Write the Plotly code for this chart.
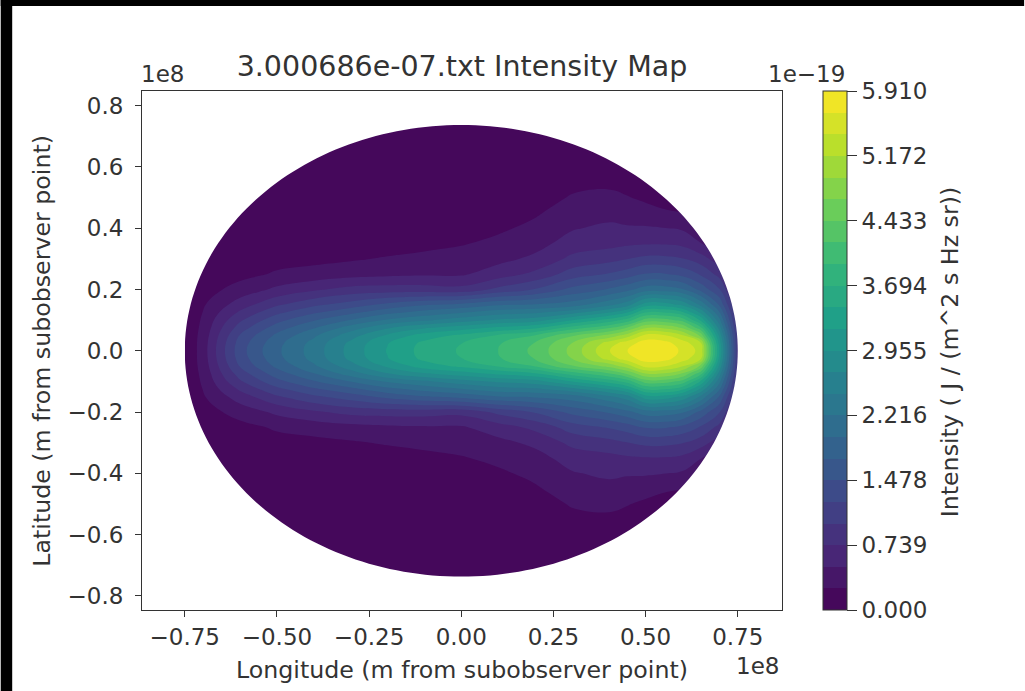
import math
import plotly.colors as pc
import plotly.graph_objects as go

# Longitude / latitude nodes (units of 1e8 m) and intensity (units of 1e-19).
lon = [-0.75, -0.72, -0.69, -0.65, -0.6, -0.55, -0.5, -0.4, -0.3, -0.2, -0.1, 0.0,
       0.1, 0.2, 0.3, 0.4, 0.45, 0.5, 0.55, 0.6, 0.65, 0.7, 0.75]
lat_upper = [0.0, 0.025, 0.05, 0.075, 0.1, 0.125, 0.15, 0.2, 0.25, 0.3, 0.35, 0.4, 0.45, 0.5, 0.55, 0.6, 0.75]

I_lat_000 = [0.05, 0.22, 0.48, 0.90, 1.37, 1.67, 1.92, 2.33, 2.80, 3.22, 3.54, 3.72, 3.94, 4.25, 4.75, 5.40, 5.66, 5.85, 5.82, 5.62, 5.33, 3.20, 1.00]
I_lat_025 = [0.05, 0.22, 0.47, 0.88, 1.34, 1.63, 1.89, 2.30, 2.77, 3.19, 3.51, 3.69, 3.91, 4.20, 4.68, 5.28, 5.55, 5.78, 5.75, 5.55, 5.20, 3.12, 0.99]
I_lat_050 = [0.05, 0.21, 0.44, 0.82, 1.25, 1.53, 1.78, 2.17, 2.60, 3.00, 3.32, 3.50, 3.72, 3.95, 4.40, 4.75, 5.05, 5.50, 5.45, 5.20, 4.60, 2.90, 0.95]
I_lat_075 = [0.05, 0.19, 0.40, 0.73, 1.10, 1.36, 1.60, 1.95, 2.33, 2.68, 2.92, 3.08, 3.25, 3.40, 3.80, 4.15, 4.45, 4.90, 4.88, 4.65, 4.00, 2.60, 0.88]
I_lat_100 = [0.04, 0.17, 0.36, 0.64, 0.95, 1.18, 1.40, 1.70, 1.98, 2.25, 2.42, 2.60, 2.75, 2.85, 3.20, 3.55, 3.80, 4.30, 4.30, 4.10, 3.40, 2.30, 0.80]
I_lat_125 = [0.04, 0.15, 0.31, 0.53, 0.78, 0.98, 1.17, 1.44, 1.66, 1.90, 2.06, 2.20, 2.35, 2.42, 2.62, 2.95, 3.20, 3.70, 3.70, 3.50, 2.90, 2.00, 0.73]
I_lat_150 = [0.03, 0.13, 0.26, 0.42, 0.62, 0.78, 0.95, 1.18, 1.35, 1.55, 1.70, 1.80, 1.95, 2.00, 2.10, 2.40, 2.60, 3.10, 3.10, 2.90, 2.40, 1.70, 0.65]
I_lat_200 = [0.02, 0.09, 0.17, 0.24, 0.34, 0.44, 0.55, 0.70, 0.82, 0.85, 0.85, 0.82, 1.05, 1.25, 1.55, 1.75, 1.90, 2.10, 2.10, 2.00, 1.65, 1.25, 0.50]
I_lat_250 = [0.01, 0.06, 0.10, 0.13, 0.17, 0.22, 0.28, 0.34, 0.40, 0.44, 0.46, 0.46, 0.62, 0.80, 1.10, 1.25, 1.35, 1.50, 1.50, 1.40, 1.20, 0.90, 0.35]
I_lat_300 = [0.01, 0.03, 0.05, 0.06, 0.08, 0.11, 0.15, 0.18, 0.22, 0.27, 0.31, 0.34, 0.42, 0.55, 0.80, 0.90, 0.98, 1.05, 1.05, 1.00, 0.85, 0.60, 0.20]
I_lat_350 = [0.00, 0.01, 0.02, 0.03, 0.04, 0.05, 0.07, 0.08, 0.10, 0.13, 0.18, 0.23, 0.30, 0.40, 0.60, 0.66, 0.70, 0.72, 0.72, 0.68, 0.50, 0.35, 0.10]
I_lat_400 = [0.00, 0.00, 0.01, 0.01, 0.02, 0.02, 0.03, 0.04, 0.05, 0.07, 0.09, 0.13, 0.21, 0.30, 0.47, 0.55, 0.52, 0.52, 0.50, 0.46, 0.35, 0.20, 0.05]
I_lat_450 = [0.00, 0.00, 0.00, 0.00, 0.01, 0.01, 0.01, 0.02, 0.02, 0.03, 0.04, 0.07, 0.12, 0.22, 0.35, 0.40, 0.38, 0.34, 0.28, 0.25, 0.20, 0.10, 0.02]
I_lat_500 = [0.00, 0.00, 0.00, 0.00, 0.00, 0.00, 0.00, 0.00, 0.01, 0.01, 0.02, 0.03, 0.06, 0.12, 0.27, 0.30, 0.26, 0.20, 0.15, 0.13, 0.10, 0.05, 0.01]
I_lat_550 = [0.00, 0.00, 0.00, 0.00, 0.00, 0.00, 0.00, 0.00, 0.00, 0.00, 0.00, 0.01, 0.03, 0.05, 0.17, 0.20, 0.16, 0.10, 0.08, 0.06, 0.04, 0.02, 0.00]
I_lat_600 = [0.00, 0.00, 0.00, 0.00, 0.00, 0.00, 0.00, 0.00, 0.00, 0.00, 0.00, 0.00, 0.01, 0.02, 0.08, 0.08, 0.07, 0.05, 0.03, 0.02, 0.01, 0.00, 0.00]
I_lat_750 = [0.00] * 23
rows_upper = [I_lat_000, I_lat_025, I_lat_050, I_lat_075, I_lat_100, I_lat_125, I_lat_150, I_lat_200,
              I_lat_250, I_lat_300, I_lat_350, I_lat_400, I_lat_450, I_lat_500, I_lat_550, I_lat_600, I_lat_750]

# The map is mirror symmetric about the equator.
lat = [-v for v in lat_upper[:0:-1]] + lat_upper
intensity = rows_upper[:0:-1] + rows_upper

x_ticks = [-0.75, -0.5, -0.25, 0.0, 0.25, 0.5, 0.75]
y_ticks = [-0.8, -0.6, -0.4, -0.2, 0.0, 0.2, 0.4, 0.6, 0.8]
cbar_ticks = [0.0, 0.739, 1.478, 2.216, 2.955, 3.694, 4.433, 5.172, 5.910]
cbar_labels = ["0.000", "0.739", "1.478", "2.216", "2.955", "3.694", "4.433", "5.172", "5.910"]
z_max = 5.91
n_bands = 24
disc_rx, disc_ry = 0.75, 0.737
x_range = [-0.866, 0.87]
y_range = [-0.846, 0.848]

W, H = 1025, 691
L, R, T, B = 141.5, 782.5, 91, 610
INK = "#333333"
FONT = "DejaVu Sans"
TICK = 23
LABEL = 23.7
px = lambda v: (v - L) / (R - L)
py = lambda v: (B - v) / (B - T)

# One viridis colour per band, sampled at the band's midpoint.
band_colors = pc.sample_colorscale("Viridis", [(i + 0.5) / n_bands for i in range(n_bands)])
band_scale = [[i / (n_bands - 1), c] for i, c in enumerate(band_colors)]

band = z_max / n_bands
fig = go.Figure(go.Contour(
    x=lon, y=lat, z=intensity,
    colorscale=band_scale, zmin=0, zmax=z_max,
    autocontour=False,
    contours=dict(start=band, end=z_max - band, size=band, coloring="fill", showlines=False),
    line=dict(width=0, smoothing=1.3),
    hoverinfo="skip",
    colorbar=dict(
        xref="container", x=823 / W, xanchor="left", xpad=0, ypad=0,
        yref="paper", y=0.5, yanchor="middle",
        thickness=24, thicknessmode="pixels", len=B - T, lenmode="pixels",
        outlinecolor=INK, outlinewidth=1,
        tickmode="array", tickvals=cbar_ticks, ticktext=cbar_labels,
        ticks="outside", ticklen=10, tickwidth=1, tickcolor=INK,
        tickfont=dict(family=FONT, size=TICK, color=INK),
    ),
))

# White mask outside the disc, in data coordinates (the map only exists on the planet's disc).
steps = 240
ring = " ".join(
    ("M" if i == 0 else "L") + f"{disc_rx * math.cos(2 * math.pi * i / steps):.4f},{disc_ry * math.sin(2 * math.pi * i / steps):.4f}"
    for i in range(steps)
) + " Z"
frame = (f"M{x_range[0]},{y_range[0]} L{x_range[1]},{y_range[0]} "
         f"L{x_range[1]},{y_range[1]} L{x_range[0]},{y_range[1]} Z")
shapes = [
    dict(type="path", xref="x", yref="y", path=frame + " " + ring, fillcolor="white",
         fillrule="evenodd", line=dict(width=0), layer="above"),
    dict(type="rect", xref="paper", yref="paper", x0=px(0), x1=px(W), y0=py(0), y1=py(6),
         fillcolor="black", line=dict(width=0), layer="below"),
    dict(type="rect", xref="paper", yref="paper", x0=px(0), x1=px(11.5), y0=py(0), y1=py(H),
         fillcolor="black", line=dict(width=0), layer="below"),
]

def label(text, x, y, size=TICK, angle=0):
    return dict(text=text, xref="paper", yref="paper", x=px(x), y=py(y), showarrow=False,
                xanchor="center", yanchor="middle", textangle=angle,
                font=dict(family=FONT, size=size, color=INK))

annotations = [
    label("1e8", 162, 74),
    label("1e8", 758, 666),
    label("1e\u221219", 807, 74),
    label("Intensity ( J / (m^2 s Hz sr))", 951, 352, size=LABEL, angle=-90),
    label("Longitude (m from subobserver point)", 462, 670, size=LABEL),
    label("Latitude (m from subobserver point)", 41, 351, size=LABEL, angle=-90),
]

axis = dict(showline=True, mirror=True, linecolor=INK, linewidth=1, ticks="outside",
            ticklen=6, tickwidth=1, tickcolor=INK, showgrid=False, zeroline=False,
            tickfont=dict(family=FONT, size=TICK, color=INK), constrain="range")

fig.update_layout(
    width=W, height=H, autosize=False,
    margin=dict(l=L, r=W - R, t=T, b=H - B, pad=0),
    paper_bgcolor="white", plot_bgcolor="white",
    title=dict(text="3.000686e-07.txt Intensity Map", xref="paper", x=0.5, xanchor="center",
               yref="container", y=1 - 66 / H, yanchor="middle",
               font=dict(family=FONT, size=28.5, color=INK)),
    xaxis=dict(axis, range=x_range, tickmode="array", tickvals=x_ticks, tickformat=".2f"),
    yaxis=dict(axis, range=y_range, tickmode="array", tickvals=y_ticks, tickformat=".1f",
               ticklabelstandoff=7),
    shapes=shapes, annotations=annotations,
)

fig.write_html("out.html", config=dict(displayModeBar=False),
               post_script="document.body.style.margin='0';document.body.style.overflow='hidden';")
